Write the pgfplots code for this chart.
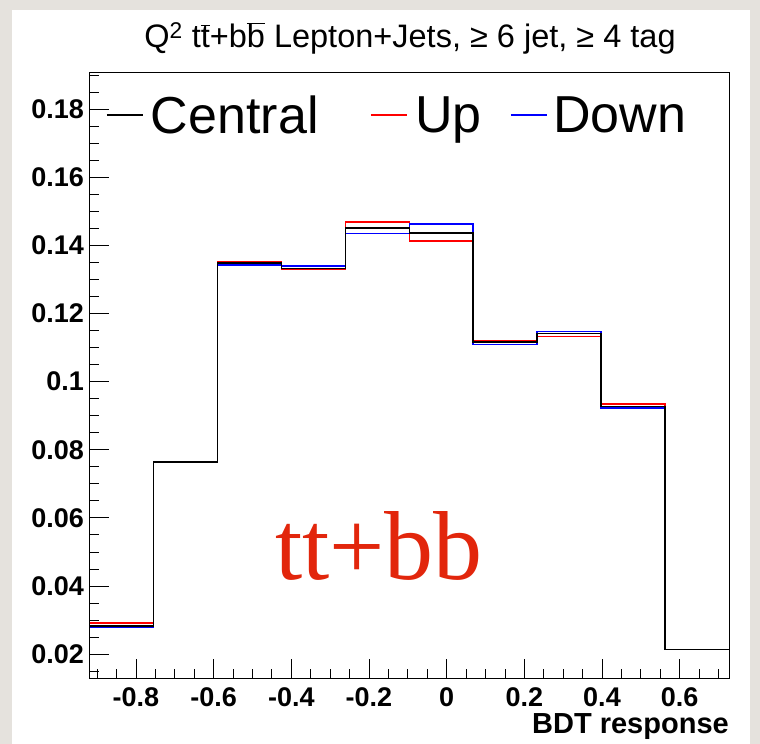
\documentclass[border=0pt]{standalone}
\usepackage{pgfplots}
\pgfplotsset{compat=1.18}
\usepackage{pgfplotstable}
\usepackage{fontspec}
\setmainfont{Liberation Sans}
\newfontfamily\serifont{Liberation Serif}
\definecolor{bgpaper}{RGB}{229,226,221}
\definecolor{ttred}{RGB}{226,38,12}

\pgfplotstableread{
x       c      u      d
-0.919  0.0283 0.0291 0.0280
-0.7544 0.0764 0.0764 0.0763
-0.5898 0.1349 0.1352 0.1342
-0.4252 0.1332 0.1329 0.1339
-0.2606 0.1451 0.1469 0.1435
-0.0960 0.1437 0.1413 0.1462
0.0686  0.1116 0.1121 0.1109
0.2332  0.1141 0.1132 0.1147
0.3978  0.0927 0.0934 0.0923
0.5624  0.0214 0.0213 0.0214
0.7270  0.0214 0.0213 0.0214
}\hist

\begin{document}
\begin{tikzpicture}[x=1bp,y=1bp]
\fill[bgpaper] (0,0) rectangle (760,744);
\fill[white] (12,0) rectangle (750,734);
\useasboundingbox (0,0) rectangle (760,744);
\begin{axis}[
  at={(89.7bp,65.7bp)}, anchor=south west,
  scale only axis, width=639.3bp, height=606bp,
  xmin=-0.919, xmax=0.727, ymin=0.0129, ymax=0.1908,
  xtick={-0.8,-0.6,-0.4,-0.2,0,0.2,0.4,0.6},
  ytick={0.02,0.04,0.06,0.08,0.1,0.12,0.14,0.16,0.18},
  minor xtick={-0.9,-0.85,-0.75,-0.7,-0.65,-0.55,-0.5,-0.45,-0.35,-0.3,-0.25,-0.15,-0.1,-0.05,0.05,0.1,0.15,0.25,0.3,0.35,0.45,0.5,0.55,0.65,0.7},
  minor ytick={0.015,0.025,0.03,0.035,0.045,0.05,0.055,0.065,0.07,0.075,0.085,0.09,0.095,0.105,0.11,0.115,0.125,0.13,0.135,0.145,0.15,0.155,0.165,0.17,0.175,0.185,0.19},
  tick align=inside, xtick pos=bottom, ytick pos=left,
  major tick length=19bp, minor tick length=9.5bp,
  every tick/.style={black, line width=0.8bp},
  axis line style={line width=1bp},
  /pgf/number format/assume math mode=true,
  /pgf/number format/fixed, /pgf/number format/precision=2,
  scaled y ticks=false, scaled x ticks=false,
  ticklabel style={font=\fontsize{27bp}{29bp}\selectfont\bfseries, inner sep=0pt},
  xticklabel style={anchor=north, yshift=-9bp},
  yticklabel style={anchor=east, xshift=-5.7bp},
  xlabel={BDT response},
  xlabel style={at={(1,0)}, anchor=base east, inner sep=0pt, yshift=-55.3bp,
    font=\fontsize{29bp}{31bp}\selectfont\bfseries},
  legend style={at={(0.0255,0.9617)}, anchor=north west, draw=none, fill=none,
    inner sep=0pt, outer sep=0pt, legend columns=3,
    font=\fontsize{52bp}{56bp}\selectfont,
    nodes={inner sep=0pt, outer sep=0pt},
    column sep=0pt},
]
\addplot[const plot, red, line width=1.6bp, forget plot] table[x=x, y=u] {\hist};
\addplot[const plot, blue, line width=1.6bp, forget plot] table[x=x, y=d] {\hist};
\addplot[const plot, black, line width=1.6bp, forget plot] table[x=x, y=c] {\hist};
\addlegendimage{legend image code/.code={\draw[black,line width=1.6bp] (0bp,0bp) -- (36bp,0bp); \path (44bp,0bp);}}
\addlegendentry{\makebox[219bp][l]{Central}}
\addlegendimage{legend image code/.code={\draw[red,line width=1.6bp] (0bp,0bp) -- (36bp,0bp); \path (44bp,0bp);}}
\addlegendentry{\makebox[95bp][l]{Up}}
\addlegendimage{legend image code/.code={\draw[blue,line width=1.6bp] (0bp,0bp) -- (36bp,0bp); \path (42bp,0bp);}}
\addlegendentry{Down}
\end{axis}
\node[anchor=base, inner sep=0pt, font=\fontsize{32.5bp}{34bp}\selectfont] at (410,696)
  {Q\textsuperscript{2} t$\overline{\mbox{t}}$+b$\overline{\mbox{b}}$ Lepton+Jets, ≥ 6 jet, ≥ 4 tag};
\node[anchor=base west, inner sep=0pt, text=ttred, font=\serifont\fontsize{98bp}{100bp}\selectfont] at (275,164) {tt+bb};
\end{tikzpicture}
\end{document}
